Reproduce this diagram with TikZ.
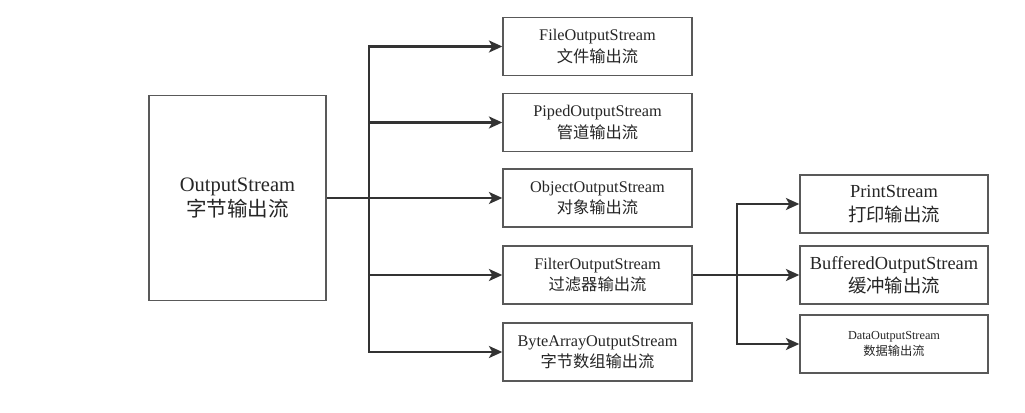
\documentclass[tikz,border=0pt]{standalone}
\usepackage{fontspec}
\setmainfont{Liberation Serif}
\newfontfamily\cjk{Noto Sans CJK SC}
\usetikzlibrary{arrows.meta}
\begin{document}
\begin{tikzpicture}[x=0.75pt,y=-0.75pt,
  box/.style={draw=black!65,line width=1.1pt,fill=white,align=center,inner sep=0pt,text=black!85},
  bigbox/.style={box,minimum width=132.75pt,minimum height=153.75pt,font=\fontsize{15.4pt}{19pt}\selectfont},
  midbox/.style={box,minimum width=141.75pt,minimum height=43.5pt,font=\fontsize{12.2pt}{16pt}\selectfont},
  rbox/.style={box,minimum width=141pt,minimum height=43.5pt,font=\fontsize{13.8pt}{17.5pt}\selectfont},
  sbox/.style={box,minimum width=141pt,minimum height=43.5pt,font=\fontsize{9.2pt}{12.5pt}\selectfont},
  conn/.style={draw=black!80,line width=1.6pt,-{Stealth[length=10pt,width=9pt,inset=2.5pt]}}]
\fill[white] (0,0) rectangle (1025,413);
\useasboundingbox (0,0) rectangle (1025,413);

\node[bigbox] (out) at (237.5,198) {OutputStream\\{\cjk 字节输出流}};

\node[midbox] (file) at (597.5,46.5) {FileOutputStream\\{\cjk 文件输出流}};
\node[midbox] (piped) at (597.5,122.5) {PipedOutputStream\\{\cjk 管道输出流}};
\node[midbox] (obj) at (597.5,198) {ObjectOutputStream\\{\cjk 对象输出流}};
\node[midbox] (filter) at (597.5,275) {FilterOutputStream\\{\cjk 过滤器输出流}};
\node[midbox] (bytes) at (597.5,352) {ByteArrayOutputStream\\{\cjk 字节数组输出流}};

\node[rbox] (print) at (894,204) {PrintStream\\{\cjk 打印输出流}};
\node[rbox] (buf) at (894,275) {BufferedOutputStream\\{\cjk 缓冲输出流}};
\node[sbox] (data) at (894,344) {DataOutputStream\\{\cjk 数据输出流}};

\coordinate (t1) at (369,198);
\draw[conn] (out.east) -- (obj.west);
\draw[conn] (t1) |- (file.west);
\draw[conn] (t1) |- (piped.west);
\draw[conn] (t1) |- (filter.west);
\draw[conn] (t1) |- (bytes.west);

\coordinate (t2) at (737,275);
\draw[conn] (filter.east) -- (buf.west);
\draw[conn] (t2) |- (print.west);
\draw[conn] (t2) |- (data.west);
\end{tikzpicture}
\end{document}
